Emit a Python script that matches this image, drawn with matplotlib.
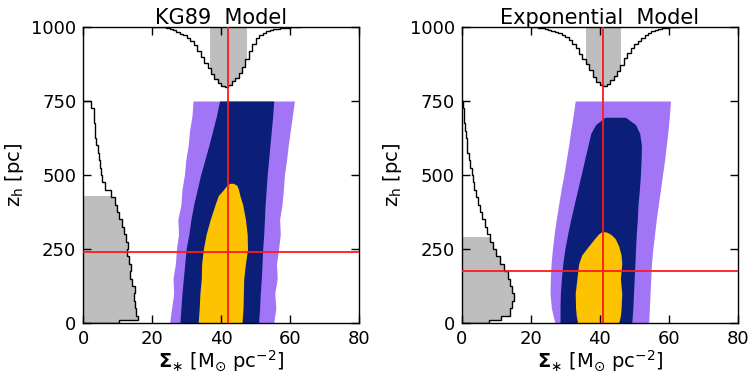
import numpy as np
import matplotlib
matplotlib.use('Agg')
import matplotlib.pyplot as plt
from matplotlib.patches import Rectangle

# ---- data ----
titles = ['KG89  Model', 'Exponential  Model']
best_sigma = [42.0, 40.9]
best_zh = [240.0, 174.0]
sigma_band = [(36.7, 47.4), (36.1, 46.2)]   # shaded interval on the Sigma marginal
zh_band = [430.0, 292.0]                     # shaded interval on the z_h marginal

# confidence regions: left/right Sigma edges at each z_h
z_knots = [0, 50, 100, 150, 200, 250, 300, 350, 400, 450, 500, 550, 600, 650, 700, 750]
kg_purple_l = [25.0, 25.6, 26.2, 26.0, 26.7, 27.0, 27.6, 27.4, 28.3, 28.6, 29.3, 29.7, 30.4, 30.8, 31.5, 31.8]
kg_purple_r = [55.2, 55.8, 55.5, 56.2, 56.0, 56.6, 57.1, 56.9, 57.6, 58.0, 58.3, 58.9, 59.4, 60.0, 60.6, 61.2]
kg_navy_l = [28.0, 28.3, 28.6, 29.0, 29.4, 29.8, 30.6, 31.2, 32.0, 33.0, 34.0, 35.2, 36.4, 37.5, 38.6, 39.5]
kg_navy_r = [50.8, 51.1, 51.3, 51.6, 51.8, 52.0, 52.3, 52.5, 52.7, 53.0, 53.3, 53.7, 54.1, 54.5, 54.9, 55.2]
kg_yel_z = [0, 50, 100, 150, 200, 250, 300, 350, 400, 430, 450, 465, 472]
kg_yel_l = [33.3, 33.6, 33.8, 34.2, 34.3, 34.8, 35.6, 36.8, 38.2, 39.1, 40.6, 41.6, 42.5]
kg_yel_r = [46.0, 46.3, 46.4, 46.5, 47.0, 47.6, 47.5, 47.0, 46.2, 45.4, 45.0, 44.5, 43.5]

ex_purple_l = [27.0, 26.0, 25.6, 25.7, 25.9, 26.3, 26.8, 27.4, 28.1, 28.8, 29.6, 30.3, 31.0, 31.6, 32.3, 32.9]
ex_purple_r = [54.2, 54.4, 54.6, 54.8, 55.0, 55.4, 55.9, 56.4, 57.0, 57.6, 58.2, 58.8, 59.3, 59.8, 60.2, 60.5]
ex_navy_z = [0, 50, 100, 150, 200, 250, 300, 350, 400, 450, 500, 550, 600, 640, 670, 695]
ex_navy_l = [28.5, 28.5, 28.6, 28.9, 29.3, 29.9, 30.7, 31.6, 32.6, 33.6, 34.6, 35.6, 36.6, 37.4, 38.8, 41.5]
ex_navy_r = [49.3, 49.6, 49.8, 50.0, 50.2, 50.4, 50.6, 50.9, 51.1, 51.5, 51.8, 52.0, 52.1, 51.6, 50.4, 47.5]
ex_yel_z = [0, 25, 50, 100, 150, 200, 230, 260, 285, 300, 308]
ex_yel_l = [33.6, 33.2, 33.0, 32.9, 33.4, 33.9, 34.8, 36.8, 38.5, 39.6, 40.5]
ex_yel_r = [45.5, 46.0, 46.2, 46.4, 46.0, 46.4, 46.2, 45.5, 44.5, 43.2, 41.8]

# Sigma marginal (depth below z_h=1000), 1 unit bins
sig_edges = np.arange(20, 64)
kg_sig_depth = [0, 0, 0, 1, 3, 6, 10, 16, 22, 28, 36, 46, 62, 82, 102, 122, 140, 158, 174, 188,
                198, 202, 196, 184, 172, 156, 134, 108, 80, 56, 38, 28, 20, 15, 11, 8, 6, 4, 3, 2, 1, 0, 0]
ex_sig_depth = [0, 1, 2, 4, 6, 9, 13, 17, 21, 26, 34, 44, 56, 72, 90, 108, 126, 146, 170, 186,
                196, 198, 192, 180, 166, 150, 128, 106, 88, 72, 58, 46, 36, 28, 20, 14, 9, 6, 4, 2, 1, 0, 0]

# z_h marginal (height in Sigma units)
zh_edges = [0, 10, 25, 50, 75, 100, 125, 150, 175, 200, 225, 250, 275, 300, 325, 350, 375, 400,
            425, 450, 475, 500, 525, 550, 575, 600, 625, 650, 675, 700, 725, 750]
kg_zh_hist = [10.4, 15.8, 15.4, 15.1, 14.6, 14.9, 14.2, 13.6, 13.9, 13.2, 12.8, 13.1, 12.5, 11.8, 11.2,
              10.4, 9.9, 9.3, 7.9, 6.2, 5.4, 5.0, 4.7, 4.5, 4.3, 3.8, 3.5, 3.3, 3.2, 3.0, 2.2]
ex_zh_hist = [7.9, 11.5, 14.0, 14.6, 15.3, 14.6, 13.9, 13.3, 12.4, 11.0, 9.8, 9.0, 8.2, 7.4, 6.7,
              6.0, 5.3, 4.6, 4.2, 3.7, 3.3, 2.9, 2.5, 2.0, 1.6, 1.4, 1.2, 1.0, 0.7, 0.6, 0.5]

regions = [
    [(z_knots, kg_purple_l, kg_purple_r), (z_knots, kg_navy_l, kg_navy_r), (kg_yel_z, kg_yel_l, kg_yel_r)],
    [(z_knots, ex_purple_l, ex_purple_r), (ex_navy_z, ex_navy_l, ex_navy_r), (ex_yel_z, ex_yel_l, ex_yel_r)],
]
sig_depths = [kg_sig_depth, ex_sig_depth]
zh_hists = [kg_zh_hist, ex_zh_hist]

region_colors = ['#a274f6', '#0b1f78', '#fdc200']
gray = '#bebebe'
red = '#ff1a1a'

plt.rcParams['font.family'] = 'DejaVu Sans'
plt.rcParams['mathtext.fontset'] = 'dejavusans'

fig = plt.figure(figsize=(7.48, 3.78), dpi=100)
lefts = [83.3 / 748, 461.7 / 748]
for i in range(2):
    ax = fig.add_axes([lefts[i], 55.0 / 378, 276.0 / 748, 296.0 / 378])
    ax.set_xlim(0, 80)
    ax.set_ylim(0, 1000)

    # confidence regions
    for (zz, xl, xr), col in zip(regions[i], region_colors):
        ax.fill_betweenx(zz, xl, xr, color=col, lw=0, zorder=1)

    # Sigma marginal hanging from the top
    top = 1000 - np.array(sig_depths[i], dtype=float)
    sf = ax.stairs(top, sig_edges, baseline=1000, fill=True, color=gray, lw=0, zorder=1.5)
    lo, hi = sigma_band[i]
    sf.set_clip_path(Rectangle((lo, 0), hi - lo, 1000, transform=ax.transData))
    ax.stairs(top, sig_edges, baseline=None, color='black', lw=1.0, zorder=2)

    # z_h marginal along the left side
    zf = ax.stairs(zh_hists[i], zh_edges, orientation='horizontal', baseline=0,
                   fill=True, color=gray, lw=0, zorder=1.5)
    zf.set_clip_path(Rectangle((0, 0), 80, zh_band[i], transform=ax.transData))
    ax.stairs(zh_hists[i], zh_edges, orientation='horizontal', baseline=0,
              color='black', lw=1.0, zorder=2)

    # best-fit crosshair
    ax.axvline(best_sigma[i], color=red, lw=1.3, zorder=3)
    ax.axhline(best_zh[i], color=red, lw=1.3, zorder=3)

    ax.set_xticks([0, 20, 40, 60, 80])
    ax.set_yticks([0, 250, 500, 750, 1000])
    ax.tick_params(direction='in', top=True, right=True, length=6, width=1,
                   labelsize=13, pad=5)
    for s in ax.spines.values():
        s.set_linewidth(1.0)
    ax.set_title(titles[i], fontsize=15, pad=2)
    ax.set_xlabel(r'$\mathbf{\Sigma}_{\ast}$ [M$_{\odot}$ pc$^{-2}$]', fontsize=14, labelpad=0)
    ax.set_ylabel(r'z$_{\rm h}$ [pc]', fontsize=14, labelpad=4)

fig.savefig('out.png', dpi=100)
